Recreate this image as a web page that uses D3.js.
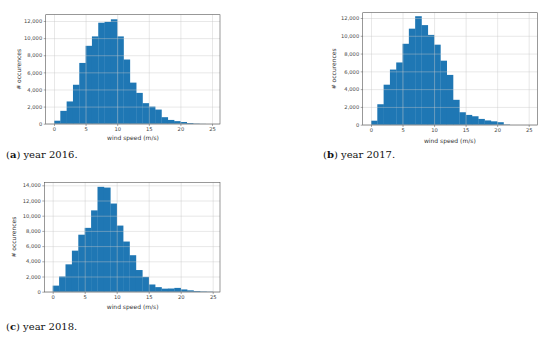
<!DOCTYPE html>
<html>
<head>
<meta charset="utf-8">
<script src="https://cdn.jsdelivr.net/npm/d3@7"></script>
<style>
  body { margin: 0; background: #fff; }
  .tick text { font-family: "DejaVu Sans", sans-serif; }
</style>
</head>
<body>
<div id="chart"></div>
<script>
// bin starts (width 1 m/s)
var binStarts = [0,1,2,3,4,5,6,7,8,9,10,11,12,13,14,15,16,17,18,19,20,21,22,23,24];
var counts2016 = [350,1500,2600,4550,7100,9100,10200,11800,11900,12200,10200,7500,4800,3600,2400,2000,1650,760,440,300,200,80,30,10,0];
var counts2017 = [450,2300,4500,6200,7000,9100,10800,12200,11200,10100,9000,7200,5600,2800,1400,1100,950,650,480,380,280,40,0,0,0];
var counts2018 = [800,2000,3600,5400,7500,8400,10700,13800,13700,11600,8700,6600,4800,2850,1950,950,600,400,420,500,300,180,90,50,30];
var xTicks = [0,5,10,15,20,25];
var yTicks2016 = [0,2000,4000,6000,8000,10000,12000];
var yTicks2017 = [0,2000,4000,6000,8000,10000,12000];
var yTicks2018 = [0,2000,4000,6000,8000,10000,12000,14000];
var captions = [["a","year 2016."],["b","year 2017."],["c","year 2018."]];

var svg = d3.select("#chart").append("svg")
  .attr("width", 550)
  .attr("height", 343);

var fmt = d3.format(",");

function panel(counts, yTicks, yMax, box, x0px, x25px, y0px, yMaxpx, lab) {
  var g = svg.append("g");
  var x = d3.scaleLinear().domain([0, 25]).range([x0px, x25px]);
  var y = d3.scaleLinear().domain([0, yMax]).range([y0px, yMaxpx]);

  // bars (slight overlap so no seams)
  g.selectAll("rect.bar")
    .data(binStarts)
    .enter().append("rect")
    .attr("class", "bar")
    .attr("x", function(d) { return x(d); })
    .attr("width", function(d) { return x(d + 1) - x(d) + 0.3; })
    .attr("y", function(d, i) { return y(counts[i]); })
    .attr("height", function(d, i) { return y(0) - y(counts[i]); })
    .attr("fill", "#1f77b4");

  // grid on top
  g.append("g")
    .attr("transform", "translate(0," + box.bottom + ")")
    .call(d3.axisBottom(x).tickValues(xTicks).tickSize(-(box.bottom - box.top)).tickFormat(""))
    .call(function(s) {
      s.select(".domain").remove();
      s.selectAll("line").attr("stroke", "#c8c8c8").attr("stroke-opacity", 0.7).attr("stroke-width", 0.6);
    });
  g.append("g")
    .attr("transform", "translate(" + box.left + ",0)")
    .call(d3.axisLeft(y).tickValues(yTicks).tickSize(-(box.right - box.left)).tickFormat(""))
    .call(function(s) {
      s.select(".domain").remove();
      s.selectAll("line").attr("stroke", "#c8c8c8").attr("stroke-opacity", 0.7).attr("stroke-width", 0.6);
    });

  // frame
  g.append("rect")
    .attr("x", box.left).attr("y", box.top)
    .attr("width", box.right - box.left).attr("height", box.bottom - box.top)
    .attr("fill", "none").attr("stroke", "#555").attr("stroke-width", 0.6);

  // axes with labels
  g.append("g")
    .attr("transform", "translate(0," + box.bottom + ")")
    .call(d3.axisBottom(x).tickValues(xTicks).tickSize(2).tickPadding(1.5))
    .call(function(s) {
      s.select(".domain").remove();
      s.selectAll("line").attr("stroke", "#555").attr("stroke-width", 0.5);
      s.selectAll("text").attr("font-size", 5.2).attr("fill", "#444");
    });
  g.append("g")
    .attr("transform", "translate(" + box.left + ",0)")
    .call(d3.axisLeft(y).tickValues(yTicks).tickSize(2).tickPadding(1.5).tickFormat(fmt))
    .call(function(s) {
      s.select(".domain").remove();
      s.selectAll("line").attr("stroke", "#555").attr("stroke-width", 0.5);
      s.selectAll("text").attr("font-size", 5.2).attr("fill", "#444");
    });

  g.append("text")
    .attr("x", (x(0) + x(25)) / 2)
    .attr("y", lab.xy)
    .attr("text-anchor", "middle")
    .attr("font-family", "DejaVu Sans, sans-serif")
    .attr("font-size", 6)
    .attr("fill", "#333")
    .text("wind speed (m/s)");
  g.append("text")
    .attr("transform", "translate(" + lab.yx + "," + ((box.top + box.bottom) / 2) + ") rotate(-90)")
    .attr("text-anchor", "middle")
    .attr("font-family", "DejaVu Sans, sans-serif")
    .attr("font-size", 6)
    .attr("fill", "#333")
    .text("# occurences");
}

panel(counts2016, yTicks2016, 12000,
  {left: 45.7, right: 220, top: 14.7, bottom: 124}, 54, 212, 123.7, 21, {xy: 140, yx: 21});
panel(counts2017, yTicks2017, 12000,
  {left: 362.7, right: 537.3, top: 12.7, bottom: 125}, 371, 528.7, 124.7, 18, {xy: 143, yx: 335.5});
panel(counts2018, yTicks2018, 14000,
  {left: 44.3, right: 220, top: 182.3, bottom: 292}, 52.7, 212.7, 291.7, 185.3, {xy: 309, yx: 15.5});

// captions
var capPos = [[6, 158], [323, 158], [6, 330]];
captions.forEach(function(c, i) {
  var t = svg.append("text")
    .attr("x", capPos[i][0]).attr("y", capPos[i][1])
    .attr("font-family", "DejaVu Serif, serif")
    .attr("font-size", 10)
    .attr("fill", "#111");
  t.append("tspan").text("(");
  t.append("tspan").attr("font-weight", "bold").text(c[0]);
  t.append("tspan").text(") " + c[1]);
});
</script>
</body>
</html>
